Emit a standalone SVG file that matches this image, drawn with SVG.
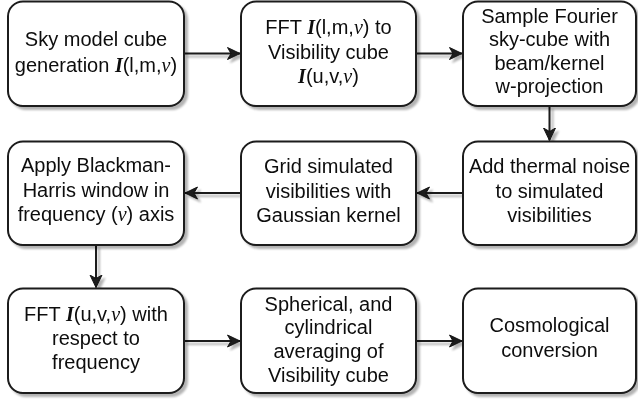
<svg xmlns="http://www.w3.org/2000/svg" width="638" height="403" viewBox="0 0 638 403">
  <style>
    .box { fill: #ffffff; stroke: #1a1a1a; stroke-width: 2; }
    .lbl { font-family: "Liberation Sans", Arial, Helvetica, sans-serif; font-size: 20px; fill: #0d0d0d; text-anchor: middle; }
    .mi { font-family: "Liberation Serif", "DejaVu Serif", serif; font-style: italic; font-weight: bold; }
    .nu { font-family: "Liberation Serif", "DejaVu Serif", serif; font-style: italic; }
    .edge { fill: none; stroke: #1a1a1a; stroke-width: 2; }
  </style>
  <defs>
    <filter id="shadow" x="-10%" y="-10%" width="130%" height="130%">
      <feGaussianBlur in="SourceAlpha" stdDeviation="1.2"/>
      <feOffset dx="3" dy="3" result="o"/>
      <feComponentTransfer><feFuncA type="linear" slope="0.3"/></feComponentTransfer>
      <feMerge><feMergeNode/><feMergeNode in="SourceGraphic"/></feMerge>
    </filter>
    <marker id="arrow" viewBox="0 0 14 14" refX="13" refY="7" markerWidth="14" markerHeight="14" markerUnits="userSpaceOnUse" orient="auto">
      <path d="M0.5,1 L13,7 L0.5,13 L4,7 Z" fill="#1a1a1a" stroke="#1a1a1a" stroke-width="1" stroke-linejoin="miter"/>
    </marker>
  </defs>

  <g id="connectors" filter="url(#shadow)">
    <line class="edge" x1="184" y1="53.5" x2="240" y2="53.5" marker-end="url(#arrow)"/>
    <line class="edge" x1="416" y1="53.5" x2="462" y2="53.5" marker-end="url(#arrow)"/>
    <line class="edge" x1="549.5" y1="106" x2="549.5" y2="140.5" marker-end="url(#arrow)"/>
    <line class="edge" x1="463" y1="193" x2="417" y2="193" marker-end="url(#arrow)"/>
    <line class="edge" x1="241" y1="193" x2="185" y2="193" marker-end="url(#arrow)"/>
    <line class="edge" x1="96" y1="245" x2="96" y2="287.5" marker-end="url(#arrow)"/>
    <line class="edge" x1="184" y1="341" x2="240" y2="341" marker-end="url(#arrow)"/>
    <line class="edge" x1="416" y1="341" x2="462" y2="341" marker-end="url(#arrow)"/>
  </g>

  <g id="sky-model" filter="url(#shadow)">
    <rect class="box" x="8" y="1.5" width="176" height="104.5" rx="15"/>
    <text class="lbl" x="96" y="45.5">Sky model cube</text>
    <text class="lbl" x="96" y="71.5">generation <tspan class="mi">I</tspan>(l,m,<tspan class="nu">ν</tspan>)</text>
  </g>

  <g id="fft-visibility" filter="url(#shadow)">
    <rect class="box" x="241" y="1.5" width="175" height="104.5" rx="15"/>
    <text class="lbl" x="328.5" y="34">FFT <tspan class="mi">I</tspan>(l,m,<tspan class="nu">ν</tspan>) to</text>
    <text class="lbl" x="328.5" y="58.5">Visibility cube</text>
    <text class="lbl" x="328.5" y="83"><tspan class="mi">I</tspan>(u,v,<tspan class="nu">ν</tspan>)</text>
  </g>

  <g id="sample-fourier" filter="url(#shadow)">
    <rect class="box" x="463" y="1.5" width="173" height="104.5" rx="15"/>
    <text class="lbl" x="549.5" y="22.5">Sample Fourier</text>
    <text class="lbl" x="549.5" y="46">sky-cube with</text>
    <text class="lbl" x="549.5" y="69.5">beam/kernel</text>
    <text class="lbl" x="549.5" y="93">w-projection</text>
  </g>

  <g id="add-noise" filter="url(#shadow)">
    <rect class="box" x="463" y="141.5" width="173" height="103.5" rx="15"/>
    <text class="lbl" x="549.5" y="173">Add thermal noise</text>
    <text class="lbl" x="549.5" y="197.5">to simulated</text>
    <text class="lbl" x="549.5" y="221.5">visibilities</text>
  </g>

  <g id="grid-visibilities" filter="url(#shadow)">
    <rect class="box" x="241" y="141.5" width="175" height="103.5" rx="15"/>
    <text class="lbl" x="328.5" y="173">Grid simulated</text>
    <text class="lbl" x="328.5" y="197.5">visibilities with</text>
    <text class="lbl" x="328.5" y="221.5">Gaussian kernel</text>
  </g>

  <g id="blackman-harris" filter="url(#shadow)">
    <rect class="box" x="8" y="141.5" width="176" height="103.5" rx="15"/>
    <text class="lbl" x="96" y="172">Apply Blackman-</text>
    <text class="lbl" x="96" y="196.5">Harris window in</text>
    <text class="lbl" x="96" y="221">frequency (<tspan class="nu">ν</tspan>) axis</text>
  </g>

  <g id="fft-frequency" filter="url(#shadow)">
    <rect class="box" x="8" y="288.5" width="176" height="104.5" rx="15"/>
    <text class="lbl" x="96" y="320.5">FFT <tspan class="mi">I</tspan>(u,v,<tspan class="nu">ν</tspan>) with</text>
    <text class="lbl" x="96" y="345">respect to</text>
    <text class="lbl" x="96" y="369">frequency</text>
  </g>

  <g id="spherical-cylindrical" filter="url(#shadow)">
    <rect class="box" x="241" y="288.5" width="175" height="104.5" rx="15"/>
    <text class="lbl" x="328.5" y="310.5">Spherical, and</text>
    <text class="lbl" x="328.5" y="334">cylindrical</text>
    <text class="lbl" x="328.5" y="358">averaging of</text>
    <text class="lbl" x="328.5" y="381.5">Visibility cube</text>
  </g>

  <g id="cosmological" filter="url(#shadow)">
    <rect class="box" x="463" y="288.5" width="173" height="104.5" rx="15"/>
    <text class="lbl" x="549.5" y="332">Cosmological</text>
    <text class="lbl" x="549.5" y="356.5">conversion</text>
  </g>
</svg>
